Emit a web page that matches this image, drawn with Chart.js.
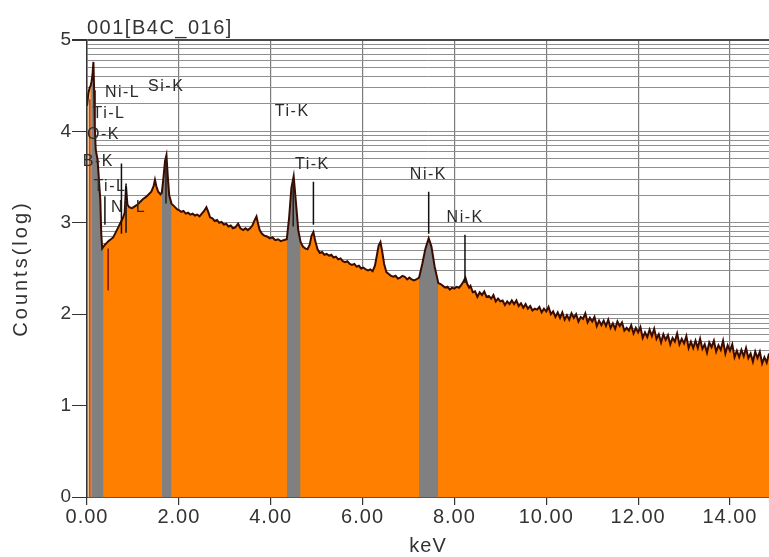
<!DOCTYPE html>
<html>
<head>
<meta charset="utf-8">
<script src="https://cdn.jsdelivr.net/npm/chart.js@4.4.0/dist/chart.umd.min.js"></script>
<style>
  html, body { margin: 0; padding: 0; background: #fff; }
  #js-spectrum { display: block; }
</style>
</head>
<body>
<canvas id="js-spectrum" width="769" height="557"></canvas>
<script>
// EDS spectrum 001[B4C_016], counts as log10 values
const energyKeV = [
    0.00, 0.03, 0.06, 0.08, 0.10, 0.12, 0.14, 0.155, 0.17, 0.19, 0.23, 0.26, 0.29, 0.31, 0.33, 0.36,
    0.39, 0.43, 0.47, 0.52, 0.57, 0.62, 0.68, 0.73, 0.78, 0.82, 0.85, 0.88, 0.92, 0.98, 1.04, 1.10,
    1.16, 1.22, 1.28, 1.34, 1.40, 1.45, 1.48, 1.51, 1.55, 1.60, 1.63, 1.66, 1.70, 1.73, 1.76, 1.79,
    1.84, 1.90, 1.96,
    2.00, 2.05, 2.10, 2.15, 2.20, 2.25, 2.30, 2.35, 2.40, 2.45, 2.50, 2.55, 2.60, 2.64, 2.68, 2.73,
    2.78, 2.83, 2.88, 2.93, 2.98, 3.03, 3.08, 3.13, 3.18, 3.23, 3.29, 3.34, 3.40, 3.45, 3.50, 3.55,
    3.60, 3.65, 3.69, 3.72, 3.76, 3.81, 3.86, 3.92, 3.98, 4.04, 4.10, 4.16, 4.22, 4.28, 4.35, 4.40,
    4.45, 4.50, 4.55, 4.60, 4.65, 4.70, 4.75, 4.80, 4.85, 4.89, 4.93, 4.97, 5.02, 5.07, 5.12, 5.17,
    5.22, 5.27, 5.32, 5.37, 5.42, 5.47, 5.52, 5.57, 5.62, 5.67, 5.72, 5.77, 5.82, 5.87, 5.92, 5.97,
    6.02, 6.07, 6.12, 6.17, 6.22, 6.27, 6.31, 6.35, 6.39, 6.43, 6.47, 6.52, 6.57, 6.62, 6.67, 6.72,
    6.77, 6.82, 6.87, 6.92, 6.97, 7.02, 7.07, 7.12, 7.17, 7.23, 7.30, 7.37, 7.44, 7.50, 7.57, 7.65,
    7.70, 7.75, 7.80, 7.85, 7.90, 7.95, 8.00, 8.05, 8.10, 8.15, 8.20, 8.24, 8.28, 8.32,
    8.35, 8.40, 8.45, 8.50, 8.55, 8.60, 8.65, 8.70, 8.75, 8.80, 8.85, 8.90, 8.95, 9.00, 9.05, 9.10,
    9.15, 9.20, 9.25, 9.30, 9.35, 9.40, 9.45, 9.50, 9.55, 9.60, 9.65, 9.70, 9.75, 9.80, 9.85, 9.90,
    9.95, 10.00, 10.05, 10.10, 10.15, 10.20, 10.25, 10.30, 10.35, 10.40, 10.45, 10.50, 10.55, 10.60, 10.65, 10.70,
    10.75, 10.80, 10.85, 10.90, 10.95, 11.00, 11.05, 11.10, 11.15, 11.20, 11.25, 11.30, 11.35, 11.40, 11.45, 11.50,
    11.55, 11.60, 11.65, 11.70, 11.75, 11.80, 11.85, 11.90, 11.95, 12.00, 12.05, 12.10, 12.15, 12.20, 12.25, 12.30,
    12.35, 12.40, 12.45, 12.50, 12.55, 12.60, 12.65, 12.70, 12.75, 12.80, 12.85, 12.90, 12.95, 13.00, 13.05, 13.10,
    13.15, 13.20, 13.25, 13.30, 13.35, 13.40, 13.45, 13.50, 13.55, 13.60, 13.65, 13.70, 13.75, 13.80, 13.85, 13.90,
    13.95, 14.00, 14.05, 14.10, 14.15, 14.20, 14.25, 14.30, 14.35, 14.40, 14.45, 14.50, 14.55, 14.60, 14.65, 14.70,
    14.75, 14.80, 14.85
];
const logCounts = [
    4.28, 4.42, 4.48, 4.50, 4.55, 4.62, 4.76, 4.45, 4.05, 3.80, 3.69, 3.47, 3.25, 2.89, 2.72, 2.74,
    2.76, 2.78, 2.80, 2.82, 2.84, 2.89, 2.95, 3.00, 3.05, 3.11, 3.40, 3.20, 3.17, 3.16, 3.18, 3.20,
    3.23, 3.26, 3.28, 3.31, 3.34, 3.40, 3.47, 3.40, 3.34, 3.31, 3.33, 3.47, 3.68, 3.74, 3.50, 3.30,
    3.21, 3.18, 3.15,
    3.14, 3.12, 3.13, 3.10, 3.11, 3.09, 3.10, 3.08, 3.09, 3.07, 3.10, 3.13, 3.17, 3.12, 3.06, 3.05,
    3.02, 3.03, 3.00, 3.01, 2.98, 2.99, 2.96, 2.97, 2.94, 2.95, 2.99, 2.94, 2.92, 2.94, 2.92, 2.94,
    2.97, 3.03, 3.07, 3.00, 2.92, 2.88, 2.86, 2.85, 2.83, 2.84, 2.81, 2.82, 2.80, 2.81, 2.82, 3.05,
    3.38, 3.51, 3.22, 2.92, 2.79, 2.74, 2.72, 2.71, 2.76, 2.86, 2.90, 2.80, 2.71, 2.67, 2.68, 2.65,
    2.66, 2.64, 2.65, 2.62, 2.63, 2.60, 2.61, 2.58, 2.57, 2.58, 2.55, 2.54, 2.55, 2.52, 2.53, 2.50,
    2.51, 2.49, 2.48, 2.49, 2.47, 2.53, 2.64, 2.75, 2.79, 2.68, 2.55, 2.46, 2.44, 2.42, 2.41, 2.42,
    2.39, 2.40, 2.42, 2.41, 2.38, 2.40, 2.38, 2.37, 2.38, 2.40, 2.55, 2.72, 2.83, 2.74, 2.52, 2.34,
    2.33, 2.31, 2.29, 2.30, 2.27, 2.29, 2.28, 2.30, 2.29, 2.32, 2.36, 2.40, 2.33, 2.29,
    2.31, 2.24, 2.25, 2.19, 2.24, 2.21, 2.25, 2.19, 2.20, 2.17, 2.21, 2.14, 2.17, 2.14, 2.15, 2.10,
    2.14, 2.11, 2.15, 2.11, 2.15, 2.09, 2.12, 2.07, 2.11, 2.06, 2.09, 2.04, 2.06, 2.05, 2.08, 2.02,
    2.06, 2.03, 2.08, 2.00, 2.03, 1.97, 2.02, 1.96, 2.02, 1.94, 1.99, 1.94, 2.01, 1.96, 2.00, 1.92,
    1.97, 1.95, 2.01, 1.91, 1.96, 1.92, 1.97, 1.87, 1.93, 1.88, 1.93, 1.87, 1.94, 1.85, 1.90, 1.84,
    1.92, 1.87, 1.91, 1.82, 1.85, 1.82, 1.88, 1.79, 1.85, 1.80, 1.86, 1.74, 1.80, 1.75, 1.83, 1.76,
    1.84, 1.73, 1.78, 1.69, 1.78, 1.72, 1.77, 1.67, 1.74, 1.70, 1.79, 1.67, 1.73, 1.68, 1.76, 1.63,
    1.70, 1.63, 1.71, 1.63, 1.73, 1.62, 1.67, 1.58, 1.69, 1.64, 1.71, 1.59, 1.66, 1.61, 1.71, 1.57,
    1.66, 1.60, 1.67, 1.53, 1.60, 1.53, 1.61, 1.54, 1.63, 1.52, 1.57, 1.48, 1.59, 1.52, 1.59, 1.46,
    1.53, 1.47, 1.57
];

// shaded peak windows (keV), low-energy strip, x ticks
const greyBands = [[0.10, 0.36], [1.63, 1.84], [4.35, 4.65], [7.23, 7.65]];
const lowEnergyStrip = [0.00, 0.08];
const xTickValues = [0, 2, 4, 6, 8, 10, 12, 14];
const yDecades = [0, 1, 2, 3, 4, 5];
const yMinorSteps = [2, 3, 4, 5, 6, 7, 8, 9];

// KLM marker lines: energy, top and bottom (log counts)
const markerKeV = [0.06, 0.39, 0.46, 0.75, 0.85, 1.72, 4.49, 4.93, 7.44, 8.23];
const markerTop = [4.35, 3.29, 2.72, 3.65, 3.43, 3.72, 3.47, 3.45, 3.34, 2.87];
const markerBottom = [0.00, 2.98, 2.26, 2.88, 2.89, 3.21, 2.96, 2.98, 2.88, 2.34];
const markerColor = ['#b5502a', '#111', '#7a1400', '#111', '#111', '#2a1a14', '#2a1a14', '#111', '#111', '#111'];

// element labels: text, left edge (keV), centre (log counts)
const peakLabelText = ['Ni-L', 'Si-K', 'Ti-L', 'O-K', 'B-K', 'Ti-L', 'Ni-L', 'Ti-K', 'Ti-K', 'Ni-K', 'Ni-K'];
const peakLabelKeV = [0.39, 1.33, 0.12, 0.00, -0.09, 0.14, 0.52, 4.09, 4.53, 7.03, 7.83];
const peakLabelLog = [4.43, 4.49, 4.19, 3.97, 3.67, 3.40, 3.17, 4.22, 3.64, 3.53, 3.06];

const chartTitle = '001[B4C_016]';
const yAxisTitle = 'Counts(log)';

const fontFamily = '"Liberation Sans", Arial, sans-serif';

const spectrumPoints = energyKeV.map((e, i) => ({ x: e, y: logCounts[i] }));

const inRange = (range) => spectrumPoints.filter(p => p.x >= range[0] && p.x <= range[1]);

const isDecade = (v) => Math.abs(v - Math.round(v)) < 1e-6;

const labelPlugin = {
    id: 'spectrumText',
    beforeDraw(chart) {
        chart.ctx.letterSpacing = '1px';
    },
    afterDatasetsDraw(chart) {
        const ctx = chart.ctx;
        const xScale = chart.scales.x;
        const yScale = chart.scales.y;
        ctx.save();
        ctx.letterSpacing = '1.5px';
        ctx.font = '16px ' + fontFamily;
        ctx.fillStyle = '#2b2b2b';
        ctx.textAlign = 'left';
        ctx.textBaseline = 'middle';
        peakLabelText.forEach((text, i) => {
            ctx.fillText(text, xScale.getPixelForValue(peakLabelKeV[i]), yScale.getPixelForValue(peakLabelLog[i]));
        });
        ctx.restore();
    },
    afterDraw(chart) {
        const ctx = chart.ctx;
        const area = chart.chartArea;
        ctx.save();
        ctx.letterSpacing = '1.5px';
        ctx.font = '20px ' + fontFamily;
        ctx.fillStyle = '#333';
        ctx.textAlign = 'left';
        ctx.textBaseline = 'alphabetic';
        ctx.fillText(chartTitle, area.left, area.top - 6);
        ctx.restore();

        // rotated y axis title, drawn here to get the wide letter spacing
        ctx.save();
        ctx.translate(21, (area.top + area.bottom) / 2);
        ctx.rotate(-Math.PI / 2);
        ctx.letterSpacing = '3px';
        ctx.font = '20px ' + fontFamily;
        ctx.fillStyle = '#333';
        ctx.textAlign = 'center';
        ctx.textBaseline = 'middle';
        ctx.fillText(yAxisTitle, 0, 0);
        ctx.restore();
    }
};

const datasets = [];

markerKeV.forEach((e, i) => {
    datasets.push({
        data: [{ x: e, y: markerTop[i] }, { x: e, y: markerBottom[i] }],
        borderColor: markerColor[i],
        borderWidth: i === 0 ? 1 : 1.5,
        pointRadius: 0,
        fill: false,
        order: 0
    });
});

datasets.push({
    data: spectrumPoints,
    borderColor: '#3a0c00',
    borderWidth: 2,
    pointRadius: 0,
    fill: false,
    order: 1
});

greyBands.forEach(band => {
    datasets.push({
        data: inRange(band),
        borderWidth: 0,
        pointRadius: 0,
        backgroundColor: '#808080',
        fill: 'origin',
        order: 2
    });
});

datasets.push({
    data: inRange(lowEnergyStrip),
    borderWidth: 0,
    pointRadius: 0,
    backgroundColor: '#f3c49a',
    fill: 'origin',
    order: 3
});

datasets.push({
    data: spectrumPoints,
    borderWidth: 0,
    pointRadius: 0,
    backgroundColor: '#ff8000',
    fill: 'origin',
    order: 4
});

const chartConfig = {
    type: 'line',
    data: { datasets: datasets },
    options: {
        responsive: false,
        animation: false,
        devicePixelRatio: 1,
        layout: { padding: { top: 40, left: 0, right: 0, bottom: 0 } },
        plugins: {
            legend: { display: false },
            tooltip: { enabled: false },
            title: { display: false }
        },
        scales: {
            x: {
                type: 'linear',
                min: 0,
                max: 14.85,
                afterFit: (scale) => { scale.height = 60; },
                afterBuildTicks: (scale) => { scale.ticks = xTickValues.map(v => ({ value: v })); },
                grid: {
                    color: '#7c7c7c',
                    lineWidth: 1.2,
                    tickLength: 8,
                    tickColor: '#333'
                },
                border: { display: true, color: '#555', width: 1, z: 1 },
                ticks: {
                    autoSkip: false,
                    maxRotation: 0,
                    padding: 0,
                    color: '#333',
                    font: { family: fontFamily, size: 20 },
                    callback: (v) => Number(v).toFixed(2)
                },
                title: {
                    display: true,
                    text: 'keV',
                    color: '#333',
                    font: { family: fontFamily, size: 20, lineHeight: 1.1 },
                    padding: { top: 0, bottom: 0 }
                }
            },
            y: {
                type: 'linear',
                min: 0,
                max: 5,
                afterFit: (scale) => { scale.width = 87; },
                afterBuildTicks: (scale) => {
                    const ticks = [];
                    yDecades.forEach(d => {
                        ticks.push({ value: d });
                        if (d < 5) {
                            yMinorSteps.forEach(k => ticks.push({ value: d + Math.log10(k) }));
                        }
                    });
                    scale.ticks = ticks;
                },
                grid: {
                    color: (c) => (c.tick && Math.abs(c.tick.value - 5) < 1e-6) ? '#4a4a4a' : '#8e8e8e',
                    lineWidth: (c) => (c.tick && Math.abs(c.tick.value - 5) < 1e-6) ? 2 : 1,
                    tickLength: 15,
                    tickColor: (c) => (c.tick && isDecade(c.tick.value)) ? '#333' : 'rgba(0,0,0,0)'
                },
                border: { display: true, color: '#333', width: 1.5, z: 1 },
                ticks: {
                    autoSkip: false,
                    padding: 0,
                    color: '#333',
                    font: { family: fontFamily, size: 19 },
                    callback: (v) => isDecade(v) ? String(Math.round(v)) : ''
                },
                title: { display: false }
            }
        }
    },
    plugins: [labelPlugin]
};

const spectrumChart = new Chart(document.getElementById('js-spectrum'), chartConfig);
</script>
</body>
</html>
